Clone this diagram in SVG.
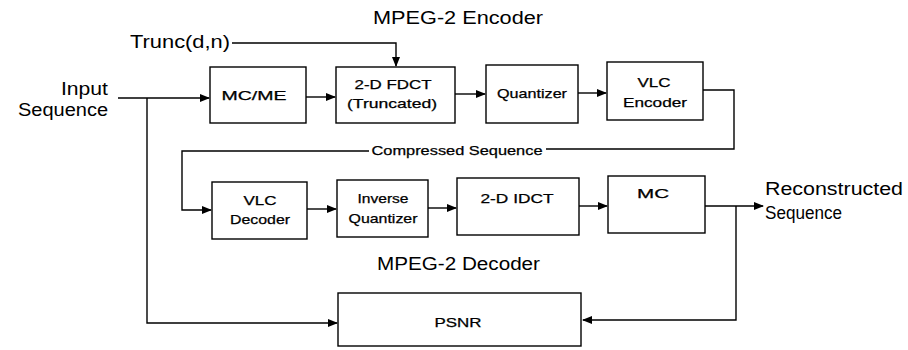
<svg xmlns="http://www.w3.org/2000/svg" width="908" height="350" viewBox="0 0 908 350">
<style>
.box{fill:#fff;stroke:#000;stroke-width:1.4}
.c{fill:none;stroke:#000;stroke-width:1.4}
.lbl{font-family:"Liberation Sans",Arial,sans-serif;font-size:13px;fill:#000;text-anchor:middle;stroke:#000;stroke-width:0.25}
.big{font-family:"Liberation Sans",Arial,sans-serif;font-size:18px;fill:#000}
</style>
<defs>
<marker id="ah" markerWidth="10" markerHeight="8" refX="9" refY="4" orient="auto" markerUnits="userSpaceOnUse">
<path d="M0,0 L10,4 L0,8 Z" fill="#000"/>
</marker>
</defs>
<rect width="908" height="350" fill="#fff"/>
<g id="connectors">
<path class="c" d="M118,98 H209" marker-end="url(#ah)"/>
<path class="c" d="M147,98 V323 H337" marker-end="url(#ah)"/>
<path class="c" d="M232,43 H396 V66" marker-end="url(#ah)"/>
<path class="c" d="M306,97 H335" marker-end="url(#ah)"/>
<path class="c" d="M455,94 H485" marker-end="url(#ah)"/>
<path class="c" d="M578,93 H606" marker-end="url(#ah)"/>
<path class="c" d="M703,90 H734 V149 H546"/>
<path class="c" d="M369,151 H182 V210 H211" marker-end="url(#ah)"/>
<path class="c" d="M307,209 H336" marker-end="url(#ah)"/>
<path class="c" d="M428,208 H456" marker-end="url(#ah)"/>
<path class="c" d="M579,206 H607" marker-end="url(#ah)"/>
<path class="c" d="M705,206 H763" marker-end="url(#ah)"/>
<path class="c" d="M736,206 V320 H583" marker-end="url(#ah)"/>
<text class="lbl" x="457" y="155" textLength="171" lengthAdjust="spacingAndGlyphs">Compressed Sequence</text>
</g>
<g id="title-encoder"><text class="big" x="373" y="24" textLength="170" lengthAdjust="spacingAndGlyphs">MPEG-2 Encoder</text></g>
<g id="trunc"><text class="big" x="130" y="48" textLength="100" lengthAdjust="spacingAndGlyphs">Trunc(d,n)</text></g>
<g id="input">
<text class="big" x="108" y="95" text-anchor="end" textLength="47" lengthAdjust="spacingAndGlyphs">Input</text>
<text class="big" x="108" y="116" text-anchor="end" textLength="90" lengthAdjust="spacingAndGlyphs">Sequence</text>
</g>
<g id="mcme"><rect class="box" x="210" y="67" width="96" height="56"/><text class="lbl" x="254" y="100" textLength="65" lengthAdjust="spacingAndGlyphs">MC/ME</text></g>
<g id="fdct"><rect class="box" x="336" y="67" width="119" height="56"/><text class="lbl" x="393" y="89" textLength="77" lengthAdjust="spacingAndGlyphs">2-D FDCT</text><text class="lbl" x="392" y="108" textLength="90" lengthAdjust="spacingAndGlyphs">(Truncated)</text></g>
<g id="quantizer"><rect class="box" x="486" y="65" width="92" height="58"/><text class="lbl" x="532" y="98" textLength="70" lengthAdjust="spacingAndGlyphs">Quantizer</text></g>
<g id="vlc-encoder"><rect class="box" x="607" y="62" width="96" height="58"/><text class="lbl" x="654" y="87" textLength="33" lengthAdjust="spacingAndGlyphs">VLC</text><text class="lbl" x="655" y="107" textLength="64" lengthAdjust="spacingAndGlyphs">Encoder</text></g>
<g id="vlc-decoder"><rect class="box" x="212" y="182" width="95" height="57"/><text class="lbl" x="260" y="205" textLength="33" lengthAdjust="spacingAndGlyphs">VLC</text><text class="lbl" x="260" y="224" textLength="60" lengthAdjust="spacingAndGlyphs">Decoder</text></g>
<g id="inverse-quantizer"><rect class="box" x="337" y="180" width="91" height="57"/><text class="lbl" x="383" y="203" textLength="51" lengthAdjust="spacingAndGlyphs">Inverse</text><text class="lbl" x="383" y="223" textLength="69" lengthAdjust="spacingAndGlyphs">Quantizer</text></g>
<g id="idct"><rect class="box" x="457" y="178" width="122" height="57"/><text class="lbl" x="517" y="203" textLength="73" lengthAdjust="spacingAndGlyphs">2-D IDCT</text></g>
<g id="mc"><rect class="box" x="608" y="176" width="97" height="57"/><text class="lbl" x="653" y="198" textLength="32" lengthAdjust="spacingAndGlyphs">MC</text></g>
<g id="reconstructed">
<text class="big" x="765" y="195" textLength="138" lengthAdjust="spacingAndGlyphs">Reconstructed</text>
<text class="big" x="765" y="219" textLength="77" lengthAdjust="spacingAndGlyphs">Sequence</text>
</g>
<g id="title-decoder"><text class="big" x="377" y="270" textLength="163" lengthAdjust="spacingAndGlyphs">MPEG-2 Decoder</text></g>
<g id="psnr"><rect class="box" x="338" y="293" width="243" height="53"/><text class="lbl" x="458" y="327" textLength="47" lengthAdjust="spacingAndGlyphs">PSNR</text></g>
</svg>
